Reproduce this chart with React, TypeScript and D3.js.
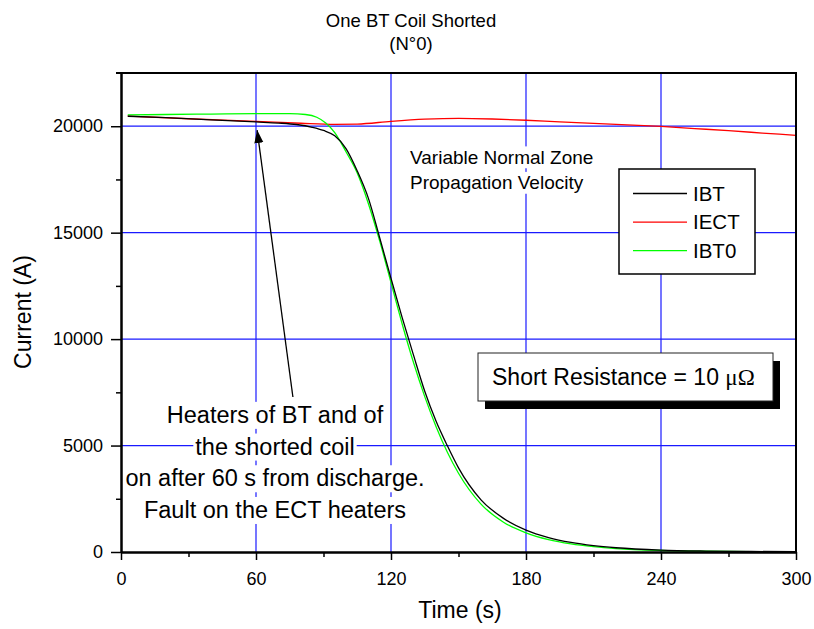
import React, { useEffect, useRef } from 'react';
import * as d3 from 'd3';

const W = 814;
const H = 629;

const titleLines = ['One BT Coil Shorted', '(N°0)'];
const xTicks = [0, 60, 120, 180, 240, 300];
const xMinorTicks = [30, 90, 150, 210, 270];
const yTicks = [0, 5000, 10000, 15000, 20000];
const yMinorTicks = [2500, 7500, 12500, 17500];

const seriesNames = ['IBT', 'IECT', 'IBT0'];
const seriesColors = ['#000000', '#ff0000', '#00ff00'];

const ibtTime = [3, 20, 40, 60, 70, 78, 85, 90, 95, 100, 105, 110, 115, 120, 125, 130, 135, 140, 145, 150, 160, 170, 180, 190, 200, 210, 220, 240, 260, 280, 300];
const ibtValue = [20470, 20400, 20300, 20200, 20150, 20080, 19950, 19800, 19550, 18950, 17900, 16600, 14750, 12850, 11000, 9250, 7550, 6150, 5000, 3950, 2450, 1580, 1030, 680, 450, 300, 200, 90, 45, 25, 15];

const iectTime = [3, 30, 60, 80, 95, 105, 120, 135, 150, 165, 180, 195, 210, 225, 240, 255, 270, 285, 300];
const iectValue = [20480, 20350, 20230, 20140, 20090, 20100, 20230, 20330, 20370, 20340, 20280, 20200, 20130, 20060, 19990, 19890, 19790, 19680, 19570];

const ibt0Time = [3, 20, 40, 60, 75, 82, 87, 91, 95, 100, 105, 110, 115, 120, 125, 130, 135, 140, 145, 150, 160, 170, 180, 190, 200, 210, 220, 240, 260, 280, 300];
const ibt0Value = [20530, 20550, 20570, 20590, 20590, 20550, 20420, 20150, 19700, 18800, 17800, 16350, 14600, 12650, 10700, 8900, 7300, 5900, 4700, 3700, 2250, 1400, 900, 580, 380, 250, 160, 70, 35, 15, 8];

const annotationLines = ['Heaters of BT and of', 'the shorted coil', 'on after 60 s from discharge.', 'Fault on the ECT heaters'];
const noteLines = ['Variable Normal Zone', 'Propagation Velocity'];
const resistanceLabel = 'Short Resistance = 10 ';
const resistanceUnit = 'μΩ';
const arrowTail = [76.4, 7280];
const arrowTip = [60.5, 19820];

export default function App() {
  const ref = useRef<SVGSVGElement>(null);

  useEffect(() => {
    const svg = d3.select(ref.current as SVGSVGElement);
    svg.selectAll('*').remove();
    const font = "'Liberation Sans', Arial, Helvetica, sans-serif";

    const x = d3.scaleLinear().domain([0, 300]).range([121, 796]);
    const y = d3.scaleLinear().domain([0, 22500]).range([552, 73]);

    svg.append('rect').attr('width', W).attr('height', H).attr('fill', '#ffffff');

    // grid
    const grid = svg.append('g');
    grid.selectAll('line.gx')
      .data(xTicks.filter(d => d > 0 && d < 300))
      .join('line')
      .attr('x1', d => x(d)).attr('x2', d => x(d))
      .attr('y1', y(22500)).attr('y2', y(0))
      .attr('stroke', '#1a1aff').attr('stroke-width', 1.2);
    grid.selectAll('line.gy')
      .data(yTicks.filter(d => d > 0))
      .join('line')
      .attr('y1', d => y(d)).attr('y2', d => y(d))
      .attr('x1', x(0)).attr('x2', x(300))
      .attr('stroke', '#1a1aff').attr('stroke-width', 1.2);

    // text with white backgrounds
    const addBgText = (lines: string[], cx: number, y0: number, dy: number, size: number, anchor: string) => {
      const gg = svg.append('g');
      lines.forEach((s, i) => {
        const by = y0 + i * dy;
        const r = gg.append('rect').attr('fill', '#ffffff');
        const t = gg.append('text')
          .attr('x', cx).attr('y', by)
          .attr('text-anchor', anchor)
          .attr('font-family', font).attr('font-size', size)
          .attr('fill', '#000').text(s);
        const w = (t.node() as SVGTextElement).getComputedTextLength();
        const left = anchor === 'middle' ? cx - w / 2 : cx;
        r.attr('x', left - 2).attr('y', by - size * 0.9).attr('width', w + 4).attr('height', size * 1.15);
      });
    };
    addBgText(noteLines, 410, 163.5, 25.5, 19, 'start');
    addBgText(annotationLines, 275, 423, 31.7, 23.5, 'middle');

    // curves
    const line = d3.line<[number, number]>()
      .x(d => x(d[0])).y(d => y(d[1]))
      .curve(d3.curveMonotoneX);
    const allSeries = [
      { t: ibtTime, v: ibtValue },
      { t: iectTime, v: iectValue },
      { t: ibt0Time, v: ibt0Value },
    ];
    [1, 2, 0].forEach(i => {
      const s = allSeries[i];
      const pts: [number, number][] = s.t.map((tt, k) => [tt, s.v[k]]);
      svg.append('path').attr('d', line(pts) as string)
        .attr('fill', 'none').attr('stroke', seriesColors[i]).attr('stroke-width', 1.3);
    });

    // axes
    const xAxis = d3.axisBottom(x).tickValues(xTicks).tickSize(8).tickSizeOuter(0).tickPadding(12).tickFormat(d3.format('d') as any);
    const gx = svg.append('g').attr('transform', `translate(0,${y(0)})`).call(xAxis);
    const xMinor = d3.axisBottom(x).tickValues(xMinorTicks).tickSize(5).tickSizeOuter(0).tickFormat(() => '');
    const gxm = svg.append('g').attr('transform', `translate(0,${y(0)})`).call(xMinor);
    const yAxis = d3.axisLeft(y).tickValues(yTicks).tickSize(10).tickSizeOuter(0).tickPadding(8).tickFormat(d3.format('d') as any);
    const gy = svg.append('g').attr('transform', `translate(${x(0)},0)`).call(yAxis);
    const yMinor = d3.axisLeft(y).tickValues(yMinorTicks).tickSize(5).tickSizeOuter(0).tickFormat(() => '');
    const gym = svg.append('g').attr('transform', `translate(${x(0)},0)`).call(yMinor);
    [gx, gxm, gy, gym].forEach(g => {
      g.select('.domain').attr('stroke', '#000').attr('stroke-width', 2);
      g.selectAll('.tick line').attr('stroke', '#000').attr('stroke-width', 1.5);
      g.selectAll('.tick text').attr('font-family', font).attr('font-size', 18).attr('fill', '#000');
    });

    // frame
    svg.append('line').attr('x1', x(0) - 5).attr('x2', x(300) + 1).attr('y1', y(22500)).attr('y2', y(22500))
      .attr('stroke', '#000').attr('stroke-width', 2);
    svg.append('line').attr('x1', x(300)).attr('x2', x(300)).attr('y1', y(22500)).attr('y2', y(0))
      .attr('stroke', '#000').attr('stroke-width', 2);

    // axis titles
    svg.append('text').attr('x', 460).attr('y', 618).attr('text-anchor', 'middle')
      .attr('font-family', font).attr('font-size', 23).text('Time (s)');
    svg.append('text').attr('transform', 'translate(31,312) rotate(-90)').attr('text-anchor', 'middle')
      .attr('font-family', font).attr('font-size', 23).text('Current (A)');

    // title
    titleLines.forEach((s, i) => {
      svg.append('text').attr('x', 411).attr('y', 27 + i * 23).attr('text-anchor', 'middle')
        .attr('font-family', font).attr('font-size', 18.5).text(s);
    });

    // legend
    const lg = svg.append('g');
    lg.append('rect').attr('x', 619).attr('y', 169).attr('width', 136).attr('height', 105)
      .attr('fill', '#fff').attr('stroke', '#000').attr('stroke-width', 1.5);
    seriesNames.forEach((n, i) => {
      const ly = 193.5 + i * 28.6;
      lg.append('line').attr('x1', 633).attr('x2', 687).attr('y1', ly).attr('y2', ly)
        .attr('stroke', seriesColors[i]).attr('stroke-width', 1.3);
      lg.append('text').attr('x', 693).attr('y', ly + 7.3)
        .attr('font-family', font).attr('font-size', 20.5).text(n);
    });

    // resistance box
    const rb = svg.append('g');
    rb.append('rect').attr('x', 485).attr('y', 361).attr('width', 295).attr('height', 48).attr('fill', '#000');
    rb.append('rect').attr('x', 478).attr('y', 353).attr('width', 295).attr('height', 48)
      .attr('fill', '#fff').attr('stroke', '#222').attr('stroke-width', 1);
    const rt = rb.append('text').attr('x', 492).attr('y', 385)
      .attr('font-family', font).attr('font-size', 23);
    rt.append('tspan').text(resistanceLabel);
    rt.append('tspan').attr('font-family', "'Liberation Serif', 'Times New Roman', serif").text(resistanceUnit);

    // arrow
    const defs = svg.append('defs');
    defs.append('marker').attr('id', 'ah').attr('viewBox', '0 0 10 10').attr('refX', 10).attr('refY', 5)
      .attr('markerWidth', 13).attr('markerHeight', 13).attr('markerUnits', 'userSpaceOnUse').attr('orient', 'auto')
      .append('path').attr('d', 'M0,1.5 L10,5 L0,8.5 Z').attr('fill', '#000');
    svg.append('line')
      .attr('x1', x(arrowTail[0])).attr('y1', y(arrowTail[1]))
      .attr('x2', x(arrowTip[0])).attr('y2', y(arrowTip[1]))
      .attr('stroke', '#000').attr('stroke-width', 1.3).attr('marker-end', 'url(#ah)');
  }, []);

  return <svg ref={ref} width={W} height={H} style={{ position: 'absolute', left: 0, top: 0 }} />;
}
